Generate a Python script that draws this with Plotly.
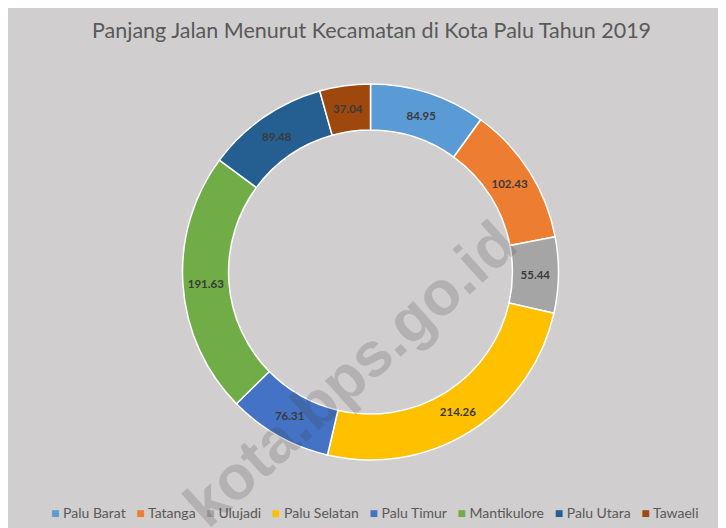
import plotly.graph_objects as go

# ---- data ----
categories = ["Palu Barat", "Tatanga", "Ulujadi", "Palu Selatan",
              "Palu Timur", "Mantikulore", "Palu Utara", "Tawaeli"]
values = [84.95, 102.43, 55.44, 214.26, 76.31, 191.63, 89.48, 37.04]
colors = ["#5B9BD5", "#ED7D31", "#A5A5A5", "#FFC000",
          "#4472C4", "#70AD47", "#255E91", "#9E480E"]
title_text = "Panjang Jalan Menurut Kecamatan di Kota Palu Tahun 2019"
watermark = "kota.bps.go.id"

# page has an 8px body margin; figure fills the rest of the 726x528 window
OFF = 8
W, H = 726 - OFF, 528 - OFF
BG = "#D0CECE"


def px(x):
    return (x - OFF) / W


def py(y):
    return (H - (y - OFF)) / H


fig = go.Figure()
fig.add_trace(go.Pie(
    labels=categories,
    values=values,
    sort=False,
    direction="clockwise",
    rotation=0,
    hole=0.755,
    marker=dict(colors=colors, line=dict(color="white", width=1.5)),
    texttemplate="%{value:.2f}",
    textposition="inside",
    insidetextorientation="horizontal",
    textfont=dict(family="Lato, Open Sans, sans-serif", size=11.5, color="#3A3A3A", weight="bold"),
    domain=dict(x=[px(370.5 - 188), px(370.5 + 188)], y=[py(460), py(84)]),
    showlegend=False,
    hoverinfo="label+value",
))

# legend built from the category / colour arrays
legend_parts = []
for name, col in zip(categories, colors):
    legend_parts.append(f"<span style='color:{col}'>■</span> {name}")
legend_text = "&nbsp;&nbsp; ".join(legend_parts)

fig.update_layout(
    width=W, height=H,
    margin=dict(l=0, r=0, t=0, b=0),
    paper_bgcolor=BG,
    plot_bgcolor=BG,
    uniformtext=dict(minsize=11.5, mode="show"),
    annotations=[
        dict(text=title_text, x=px(371), y=py(30), xref="paper", yref="paper",
             showarrow=False, xanchor="center", yanchor="middle",
             font=dict(family="Lato, Open Sans, sans-serif", size=21.5, color="#595959")),
        dict(text=legend_text, x=px(375), y=py(512), xref="paper", yref="paper",
             showarrow=False, xanchor="center", yanchor="middle",
             font=dict(family="Lato, Open Sans, sans-serif", size=14, color="#595959")),
        dict(text=watermark, x=px(350), y=py(374), xref="paper", yref="paper",
             showarrow=False, xanchor="center", yanchor="middle", textangle=-42,
             font=dict(family="Liberation Sans, Arial, sans-serif", size=62,
                       color="rgba(64,64,64,0.2)", weight="bold")),
    ],
)

fig.write_html("out.html")
